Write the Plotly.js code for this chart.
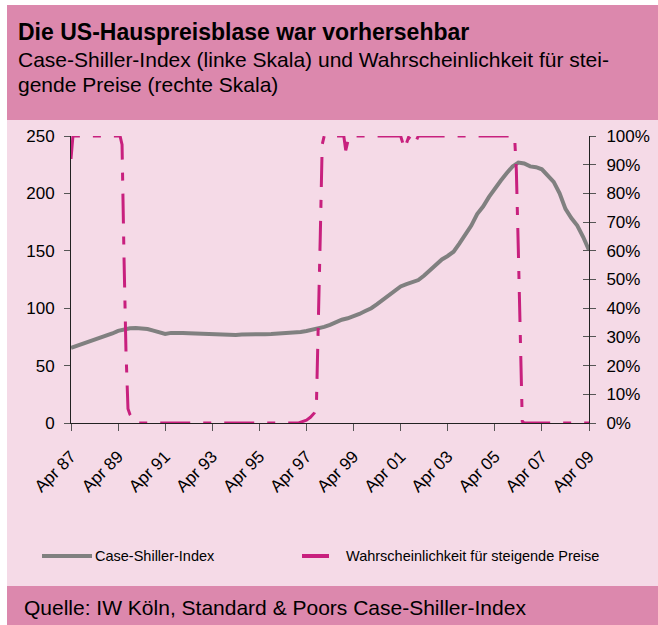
<!DOCTYPE html>
<html>
<head>
<meta charset="utf-8">
<script src="https://cdn.plot.ly/plotly-3.0.1.min.js"></script>
<style>html,body{margin:0;padding:0;background:#fff;}#chart{width:658px;height:625px;}</style>
</head>
<body>
<div id="chart"></div>
<script>
// ---- Data ----
const indexDates = [
'1987-04-01','1987-07-01','1987-10-01','1988-01-01','1988-04-01','1988-07-01','1988-10-01','1989-01-01',
'1989-04-01','1989-07-01','1989-10-01','1990-01-01','1990-04-01','1990-07-01','1990-10-01','1991-01-01',
'1991-04-01','1991-07-01','1991-10-01','1992-01-01','1992-04-01','1992-07-01','1992-10-01','1993-01-01',
'1993-04-01','1993-07-01','1993-10-01','1994-01-01','1994-04-01','1994-07-01','1994-10-01','1995-01-01',
'1995-04-01','1995-07-01','1995-10-01','1996-01-01','1996-04-01','1996-07-01','1996-10-01','1997-01-01',
'1997-04-01','1997-07-01','1997-10-01','1998-01-01','1998-04-01','1998-07-01','1998-10-01','1999-01-01',
'1999-04-01','1999-07-01','1999-10-01','2000-01-01','2000-04-01','2000-07-01','2000-10-01','2001-01-01',
'2001-04-01','2001-07-01','2001-10-01','2002-01-01','2002-04-01','2002-07-01','2002-10-01','2003-01-01',
'2003-04-01','2003-07-01','2003-10-01','2004-01-01','2004-04-01','2004-07-01','2004-10-01','2005-01-01',
'2005-04-01','2005-07-01','2005-10-01','2006-01-01','2006-04-01','2006-07-01','2006-10-01','2007-01-01',
'2007-04-01','2007-07-01','2007-10-01','2008-01-01','2008-04-01','2008-07-01','2008-10-01','2009-01-01',
'2009-04-01'];
const caseShiller = [
65.5,67.2,69.0,70.8,72.0,73.8,76.0,78.0,
80.3,81.8,82.5,82.8,82.7,81.8,80.5,79.0,
77.5,78.5,78.7,78.4,78.2,78.0,77.5,77.2,
76.9,76.5,76.2,76.3,76.6,77.0,77.3,77.3,
77.2,77.4,77.6,77.8,78.1,78.4,78.8,79.2,
80.2,81.2,82.3,83.7,85.5,88.0,90.0,91.2,
92.8,95.0,97.5,100.0,103.5,107.5,111.5,116.0,
119.0,121.0,123.0,124.5,128.5,133.0,138.0,142.5,
145.5,149.2,156.5,164.0,172.0,182.0,188.5,197.0,
204.5,211.0,217.5,223.5,226.8,226.0,223.5,222.8,
221.0,216.0,210.0,200.0,186.5,178.5,172.0,162.0,
150.5];

const probDates = [
'1987-04-01','1987-05-01','1989-05-01','1989-06-01','1989-07-01','1989-08-01','1989-09-01','1989-10-01',
'1989-11-01','1989-12-01','1990-01-01','1996-12-01','1997-02-01','1997-04-01','1997-06-01','1997-08-01',
'1997-09-01','1997-10-01','1997-11-01','1997-12-01','1998-01-01','1998-11-01','1998-12-01','1999-01-01',
'1999-02-01','2001-04-01','2001-06-01','2001-08-01','2001-10-01','2001-11-01','2002-01-01','2006-02-01',
'2006-03-01','2006-04-01','2006-05-01','2006-06-01','2006-07-01','2009-04-01'];
const probRising = [
0.92,1.00,1.00,0.97,0.58,0.25,0.05,0.03,
0.02,0.01,0.00,0.00,0.005,0.01,0.02,0.035,
0.05,0.30,0.65,0.97,1.00,1.00,0.95,0.98,
1.00,1.00,0.955,0.995,0.985,0.97,1.00,1.00,
0.88,0.60,0.25,0.005,0.00,0.00];

const tickDates = ['1987-04-01','1989-04-01','1991-04-01','1993-04-01','1995-04-01','1997-04-01',
'1999-04-01','2001-04-01','2003-04-01','2005-04-01','2007-04-01','2009-04-01'];
const tickLabels = ['Apr 87','Apr 89','Apr 91','Apr 93','Apr 95','Apr 97','Apr 99','Apr 01','Apr 03','Apr 05','Apr 07','Apr 09'];

const seriesNames = ['Case-Shiller-Index','Wahrscheinlichkeit für steigende Preise'];
const titleText = 'Die US-Hauspreisblase war vorhersehbar';
const subtitleLines = ['Case-Shiller-Index (linke Skala) und Wahrscheinlichkeit für stei-','gende Preise (rechte Skala)'];
const sourceText = 'Quelle: IW Köln, Standard & Poors Case-Shiller-Index';

// ---- Layout helpers (pixel -> paper) ----
const L = 71, R = 589, T = 136, B = 423;
const px = x => (x - L) / (R - L);
const py = y => (B - y) / (B - T);

const gray = '#808080', pink = '#C8207E';
const headPink = '#DC88AD', lightPink = '#F5DAE7';
const arial = 'Liberation Sans, Arial, sans-serif';

const traces = [
  {x: indexDates, y: caseShiller, name: seriesNames[0], type: 'scatter', mode: 'lines',
   line: {color: gray, width: 4}, yaxis: 'y', showlegend: false, hoverinfo: 'skip'},
  {x: probDates, y: probRising, name: seriesNames[1], type: 'scatter', mode: 'lines',
   line: {color: pink, width: 3, dash: '30px,13px,8px,13px'}, yaxis: 'y2', showlegend: false, hoverinfo: 'skip'},
  {x: [], y: [], yaxis: 'y3', type: 'scatter', mode: 'lines', showlegend: false, hoverinfo: 'skip'}
];

const rect = (x0, y0, x1, y1, c) => ({type: 'rect', xref: 'paper', yref: 'paper',
  x0: px(x0), x1: px(x1), y0: py(y1), y1: py(y0), fillcolor: c, line: {width: 0}, layer: 'below'});
const seg = (x0, x1, y, c, w) => ({type: 'line', xref: 'paper', yref: 'paper',
  x0: px(x0), x1: px(x1), y0: py(y), y1: py(y), line: {color: c, width: w}});
const txt = (x, y, t, size, fam, extra) => Object.assign({xref: 'paper', yref: 'paper',
  x: px(x), y: py(y), text: t, showarrow: false, xanchor: 'left', yanchor: 'middle',
  font: {family: fam, size: size, color: '#000'}}, extra || {});

const layout = {
  width: 658, height: 625,
  margin: {l: L, r: 658 - R, t: T, b: 625 - B, pad: 0},
  paper_bgcolor: '#ffffff', plot_bgcolor: 'rgba(0,0,0,0)',
  showlegend: false,
  xaxis: {type: 'date', range: ['1987-04-01', '2009-04-01'], tickmode: 'array',
    tickvals: tickDates, ticktext: tickLabels, tickangle: -45, ticks: 'outside', ticklen: 7,
    tickcolor: '#555', showline: true, linecolor: '#222', linewidth: 1, showgrid: false, zeroline: false,
    ticklabelstandoff: 9, tickfont: {family: arial, size: 17, color: '#000'}},
  yaxis: {range: [0, 250], dtick: 50, ticks: 'outside', ticklen: 6, tickcolor: '#555',
    showline: true, linecolor: '#222', linewidth: 1, showgrid: false, zeroline: false,
    ticklabelstandoff: 6, tickfont: {family: arial, size: 17, color: '#000'}},
  yaxis2: {range: [0, 1], dtick: 0.1, tickformat: '.0%', overlaying: 'y', side: 'right',
    ticks: 'outside', ticklen: 6, tickcolor: '#555', showline: true, linecolor: '#222', linewidth: 1,
    showgrid: false, zeroline: false, ticklabelstandoff: 7, tickfont: {family: arial, size: 17, color: '#000'}},
  yaxis3: {range: [0, 1], dtick: 0.1, overlaying: 'y', side: 'right', ticks: 'inside', ticklen: 6,
    tickcolor: '#555', showticklabels: false, showline: false, showgrid: false, zeroline: false},
  shapes: [
    rect(7, 5, 658, 120, headPink),
    rect(7, 120, 658, 586, lightPink),
    rect(7, 586, 658, 625, headPink),
    seg(42, 92, 556, gray, 4),
    seg(302, 329, 556, pink, 4)
  ],
  annotations: [
    txt(16, 32, '<b>' + titleText + '</b>', 23, arial),
    txt(16, 59, subtitleLines[0], 21, arial),
    txt(16, 85, subtitleLines[1], 21, arial),
    txt(93, 556, seriesNames[0], 14.5, arial),
    txt(344, 556, seriesNames[1], 14.5, arial),
    txt(22, 607, sourceText, 21, arial)
  ]
};

Plotly.newPlot('chart', traces, layout, {staticPlot: true, displayModeBar: false});
</script>
</body>
</html>
